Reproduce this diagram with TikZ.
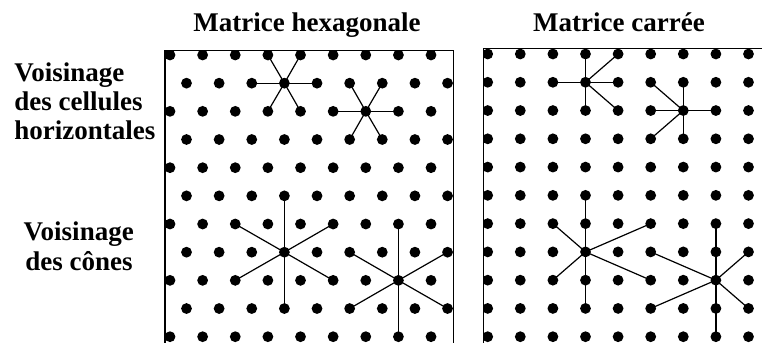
\documentclass[tikz,border=0pt]{standalone}
\usepackage{fontspec}
\setmainfont{Liberation Serif}
\begin{document}
\begin{tikzpicture}[x=0.5pt,y=-0.5pt,
  dotfill/.style={fill=black},
  panel/.style={line width=0.75pt,line cap=rect},
  link/.style={line width=0.6pt},
  lbl/.style={font=\fontsize{13.5}{16}\selectfont\bfseries,inner sep=0pt}]
\useasboundingbox (0,0) rectangle (762,343);
\fill[white] (0,0) rectangle (762,343);
% hexagonal lattice
\begin{scope}
  \clip (165,50.5) rectangle (453.3,360);
  \foreach \r in {0,...,10}{
    \pgfmathsetmacro\yy{55+28.17*\r}
    \pgfmathsetmacro\xo{170+mod(\r,2)*16.5}
    \foreach \c in {0,...,8}{
      \coordinate (h-\r-\c) at ({\xo+32.63*\c},\yy);
      \fill[dotfill] (h-\r-\c) circle[radius=2.7pt];
    }
  }
\end{scope}
% square lattice
\begin{scope}
  \clip (483.3,48.7) rectangle (800,360);
  \foreach \r in {0,...,10}{
    \pgfmathsetmacro\yy{54+28.27*\r}
    \foreach \c in {0,...,8}{
      \coordinate (s-\r-\c) at ({487.7+32.6*\c},\yy);
      \fill[dotfill] (s-\r-\c) circle[radius=2.7pt];
    }
  }
\end{scope}
% hexagonal neighbourhoods
\foreach \n in {0-3,0-4,1-2,1-4,2-3,2-4} \draw[link] (h-1-3) -- (h-\n);
\foreach \n in {1-5,1-6,2-5,2-7,3-5,3-6} \draw[link] (h-2-6) -- (h-\n);
\foreach \n in {5-3,9-3,6-2,6-5,8-2,8-5} \draw[link] (h-7-3) -- (h-\n);
\foreach \n in {6-7,10-7,7-5,7-8,9-5,9-8} \draw[link] (h-8-7) -- (h-\n);
% square neighbourhoods
\foreach \n in {0-3,0-4,1-2,1-4,2-3,2-4} \draw[link] (s-1-3) -- (s-\n);
\foreach \n in {1-6,1-5,2-5,2-7,3-5,3-6} \draw[link] (s-2-6) -- (s-\n);
\foreach \n in {5-3,9-3,6-2,8-2,6-5,8-5} \draw[link] (s-7-3) -- (s-\n);
\foreach \n in {6-7,10-7,7-5,9-5,7-8,9-8} \draw[link] (s-8-7) -- (s-\n);
% panel frames
\draw[panel] (165,350) -- (165,50.5) -- (453.3,50.5) -- (453.3,350);
\draw[panel] (483.3,350) -- (483.3,48.7) -- (770,48.7);
% texts
\node[lbl,anchor=base] (title-hex) at (307,31) {Matrice hexagonale};
\node[lbl,anchor=base] (title-sq) at (619,31) {Matrice carrée};
\node[lbl,anchor=base west] (lh1) at (14,81.5) {Voisinage};
\node[lbl,anchor=base west] (lh2) at (14,110.5) {des cellules};
\node[lbl,anchor=base west] (lh3) at (14,139.5) {horizontales};
\node[lbl,anchor=base west] (lc1) at (23.3,240) {Voisinage};
\node[lbl,anchor=base west] (lc2) at (25,270.5) {des cônes};
\end{tikzpicture}
\end{document}
